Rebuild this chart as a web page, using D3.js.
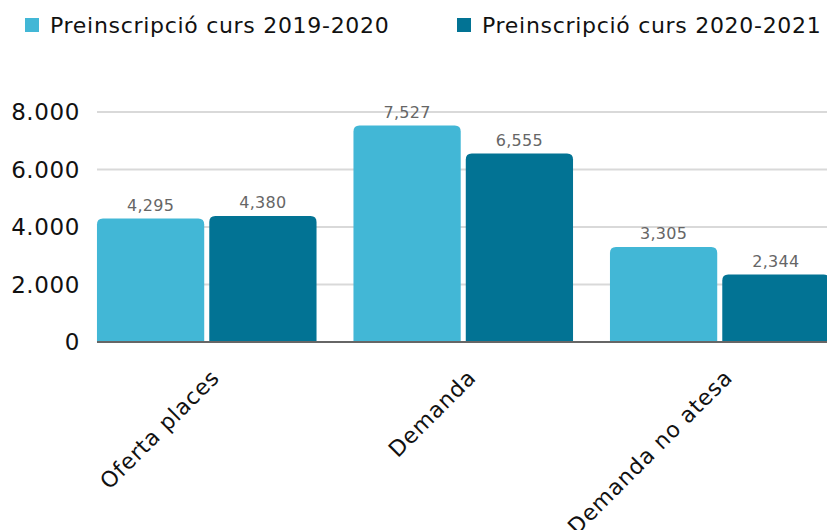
<!DOCTYPE html>
<html><head><meta charset="utf-8">
<script src="https://cdn.jsdelivr.net/npm/d3@7"></script>
<style>body{margin:0;background:#fff}svg{display:block}text{font-family:"DejaVu Sans",sans-serif}</style>
</head><body><svg id="c" width="827" height="530"></svg>
<script>
const categories = ["Oferta places", "Demanda", "Demanda no atesa"];
const seriesNames = ["Preinscripció curs 2019-2020", "Preinscripció curs 2020-2021"];
const values2019 = [4295, 7527, 3305];
const values2020 = [4380, 6555, 2344];
const yTicks = [0, 2000, 4000, 6000, 8000];
const yTickLabels = ["0", "2.000", "4.000", "6.000", "8.000"];
const colors = ["#42B7D6", "#027394"];

const svg = d3.select("#c");
const plotLeft = 97, baseY = 342, topY = 112;
const y = d3.scaleLinear().domain([0, 8000]).range([baseY, topY]);
const x0 = d3.scaleBand().domain(categories).range([78.5, 848]).paddingInner(0.144).paddingOuter(0.072);
const x1 = d3.scaleBand().domain([0, 1]).range([0, x0.bandwidth()]).paddingInner(0.045);

// gridlines
svg.append("g").selectAll("line").data(yTicks.filter(d => d > 0)).join("line")
  .attr("x1", plotLeft).attr("x2", 827).attr("y1", d => y(d)).attr("y2", d => y(d))
  .attr("stroke", "#d9d9d9").attr("stroke-width", 2);

// y labels
svg.append("g").selectAll("text").data(yTicks).join("text")
  .attr("x", 80).attr("y", d => y(d) + 8).attr("text-anchor", "end")
  .attr("font-size", 23).attr("letter-spacing", 0.6).attr("fill", "#111").text((d, i) => yTickLabels[i]);

const data = categories.map((c, i) => ({c, v: [values2019[i], values2020[i]]}));
function topRounded(x, yTop, w, h, r) {
  r = Math.min(r, h, w / 2);
  return `M${x},${yTop + h}V${yTop + r}Q${x},${yTop} ${x + r},${yTop}H${x + w - r}Q${x + w},${yTop} ${x + w},${yTop + r}V${yTop + h}Z`;
}
const g = svg.append("g").selectAll("g").data(data).join("g")
  .attr("transform", d => `translate(${x0(d.c)},0)`);
g.selectAll("path").data(d => d.v.map((v, k) => ({v, k}))).join("path")
  .attr("d", d => topRounded(x1(d.k), y(d.v), x1.bandwidth(), baseY - y(d.v), 6))
  .attr("fill", d => colors[d.k]);
g.selectAll("text").data(d => d.v.map((v, k) => ({v, k}))).join("text")
  .attr("x", d => x1(d.k) + x1.bandwidth() / 2).attr("y", d => y(d.v) - 8)
  .attr("text-anchor", "middle").attr("font-size", 16).attr("letter-spacing", 0.3).attr("fill", "#666")
  .text(d => d3.format(",")(d.v));

// baseline
svg.append("line").attr("x1", plotLeft).attr("x2", 827).attr("y1", baseY).attr("y2", baseY)
  .attr("stroke", "#666").attr("stroke-width", 2);

// x labels
svg.append("g").selectAll("text").data(categories).join("text")
  .attr("transform", d => `translate(${x0(d) + x0.bandwidth() / 2 + 14},379) rotate(-45)`)
  .attr("text-anchor", "end").attr("font-size", 22).attr("letter-spacing", 0.8).attr("fill", "#111").text(d => d);

// legend
const legX = [25, 457];
const lg = svg.append("g").selectAll("g").data(seriesNames).join("g")
  .attr("transform", (d, i) => `translate(${legX[i]},18)`);
lg.append("rect").attr("width", 14).attr("height", 14).attr("fill", (d, i) => colors[i]);
lg.append("text").attr("x", 25).attr("y", 15).attr("font-size", 22).attr("letter-spacing", 0.7).attr("fill", "#111").text(d => d);
</script></body></html>
